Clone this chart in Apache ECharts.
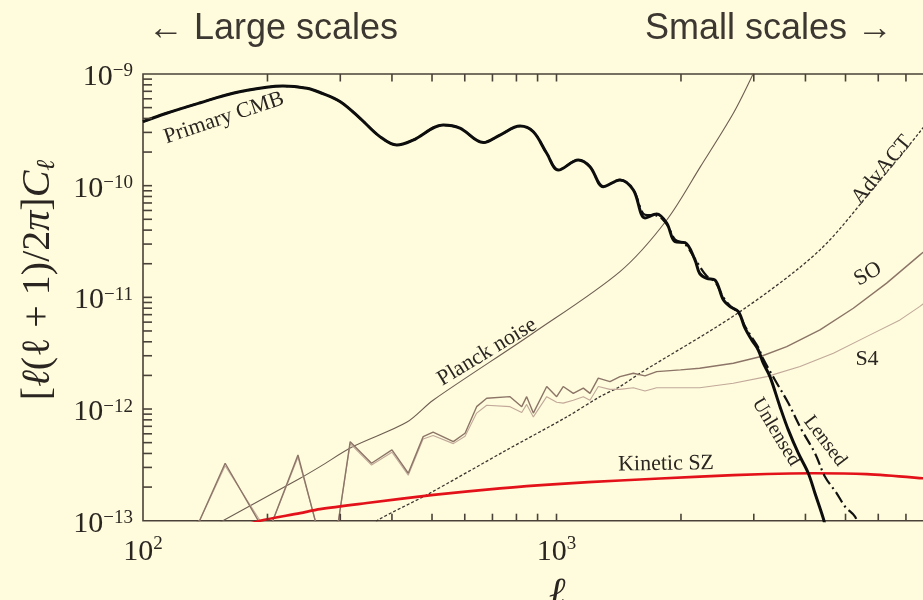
<!DOCTYPE html>
<html>
<head>
<meta charset="utf-8">
<script src="https://cdn.jsdelivr.net/npm/echarts@6/dist/echarts.min.js"></script>
<style>
  html, body { margin: 0; padding: 0; background: #fefcdc; }
  #chart { width: 923px; height: 600px; }
</style>
</head>
<body>
<div id="chart"></div>
<script>
// ---- Temperature power spectrum [l(l+1)/2pi] C_l and experiment noise curves ----
const ellCMB = [100,114,137,165,199,218,249,268,300,335,374,411,450,532,584,665,730,816,879,947,1010,1129,1205,1298,1424,1534,1637,1747,1848,1935,2046,2163,2219,2308,2417,2532,2628,2753,2857,2965,3076,3163,3283,3471,3636,3844,4064,4218,4418,4485];
const clUnlensed = [3.74e-10,4.45e-10,5.50e-10,6.72e-10,7.60e-10,7.81e-10,7.45e-10,6.83e-10,5.65e-10,4.01e-10,2.75e-10,2.31e-10,2.56e-10,3.49e-10,3.27e-10,2.43e-10,2.84e-10,3.42e-10,3.04e-10,1.95e-10,1.38e-10,1.70e-10,1.48e-10,9.8e-11,1.125e-10,9.15e-11,5.14e-11,5.58e-11,4.61e-11,3.15e-11,3.09e-11,2.16e-11,1.64e-11,1.48e-11,1.43e-11,9.5e-12,8.26e-12,7.45e-12,5.29e-12,4.16e-12,3.38e-12,2.57e-12,1.95e-12,1.05e-12,6.5e-13,4.02e-13,2.66e-13,1.76e-13,1.05e-13,8.3e-14];

const ellLensed = [100,114,137,165,199,218,249,268,300,335,374,411,450,532,584,665,730,816,879,947,1010,1129,1205,1298,1424,1534,1637,1747,1848,1935,2046,2163,2308,2417,2532,2628,2753,2857,2965,3076,3163,3376,3636,3917,4218,4460,4760,4985,5272,5360];
const clLensed = [3.74e-10,4.45e-10,5.50e-10,6.72e-10,7.60e-10,7.81e-10,7.45e-10,6.83e-10,5.65e-10,4.01e-10,2.75e-10,2.31e-10,2.56e-10,3.49e-10,3.27e-10,2.43e-10,2.84e-10,3.42e-10,3.04e-10,1.95e-10,1.38e-10,1.70e-10,1.48e-10,9.8e-11,1.125e-10,9.2e-11,5.5e-11,5.4e-11,4.5e-11,3.3e-11,3.0e-11,2.2e-11,1.55e-11,1.38e-11,1.0e-11,8.4e-12,7.3e-12,5.5e-12,4.4e-12,3.55e-12,2.8e-12,1.82e-12,1.13e-12,6.5e-13,4.02e-13,2.48e-13,1.76e-13,1.34e-13,1.09e-13,9.1e-14];

const ellPlanck = [150,156,240,268,322,434,503,877,1424,1848,2229,2677,2992,3100];
const nlPlanck = [9.2e-14,1.0e-13,2.40e-13,3.05e-13,4.61e-13,7.6e-13,1.2e-12,4.77e-12,1.70e-11,4.93e-11,1.48e-10,4.45e-10,1.01e-9,1.4e-9];

const ellAdvACT = [360,371,485,758,1059,1274,1424,1592,2779,4337,6058,7568,9000];
const nlAdvACT = [9e-14,1.02e-13,1.70e-13,4.30e-13,8.5e-13,1.29e-12,1.59e-12,2.09e-12,7.45e-12,2.66e-11,1.125e-10,3.04e-10,7.2e-10];

const ellSO = [100,137,158,190,198,206,237,261,270,297,317,357,400,438,476,503,563,601,641,678,772,824,847,879,947,1001,1038,1098,1161,1205,1262,1347,1424,1534,1637,1747,1995,2219,2677,3105,3604,4337,5222,6287,7568,10000];
const nlSO = [5e-14,1e-13,3.27e-13,1e-13,7e-14,1e-13,3.88e-13,1e-13,7e-14,1e-13,5.1e-13,3.27e-13,4.3e-13,2.66e-13,5.66e-13,6.2e-13,5.1e-13,6.07e-13,1.05e-12,1.25e-12,1.29e-12,1.05e-12,1.29e-12,9.2e-13,1.59e-12,1.29e-12,1.59e-12,1.38e-12,1.54e-12,1.38e-12,1.89e-12,1.76e-12,1.95e-12,2.09e-12,1.98e-12,2.16e-12,2.24e-12,2.32e-12,2.57e-12,2.94e-12,3.62e-12,5.11e-12,7.99e-12,1.34e-11,2.40e-11,5.7e-11];

const ellS4 = [100,137,158,192,198,206,237,261,270,297,317,357,400,438,476,503,563,601,641,678,772,824,847,879,947,1001,1038,1098,1161,1205,1262,1347,1424,1534,1637,1747,1995,2219,2677,3224,3882,4673,5623,6772,7568,10000];
const nlS4 = [5e-14,1e-13,3.1e-13,1e-13,7e-14,1e-13,3.7e-13,1e-13,7e-14,1e-13,4.9e-13,3.15e-13,4.1e-13,2.55e-13,5.4e-13,5.8e-13,4.9e-13,5.7e-13,9.2e-13,1.08e-12,1.05e-12,9.3e-13,1.1e-12,8.5e-13,1.29e-12,1.15e-12,1.13e-12,1.2e-12,1.29e-12,1.2e-12,1.59e-12,1.5e-12,1.5e-12,1.55e-12,1.45e-12,1.55e-12,1.55e-12,1.55e-12,1.7e-12,1.95e-12,2.4e-12,3.16e-12,4.45e-12,6.28e-12,8.3e-12,1.9e-11];

const ellKSZ = [180,192,240,268,348,504,730,1001,1424,2223,3224,4178,5627,7694,10000];
const clKSZ = [9.3e-14,1.0e-13,1.17e-13,1.27e-13,1.44e-13,1.70e-13,1.95e-13,2.13e-13,2.29e-13,2.48e-13,2.62e-13,2.66e-13,2.61e-13,2.40e-13,2.2e-13];

// axis ranges and tick positions
const X_MIN = 100, X_MAX = 10000;
const Y_MIN = 1e-13, Y_MAX = 1e-9;
const xTickValues = [200,300,400,500,600,700,800,900,1000,2000,3000,4000,5000,6000,7000,8000,9000];
const yTickMantissas = [1,2,3,4,5,6,7,8,9];
const yTickDecades = [-13,-12,-11,-10];

const AXIS = '#4a4139';
const TICK = '#4a4139';
const INK = '#2a2521';
const SERIF = '"Liberation Serif", "DejaVu Serif", serif';
const SANS = '"Liberation Sans", Arial, sans-serif';

const zip = (xs, ys) => xs.map((x, i) => [x, ys[i]]);

const yTickValues = [];
yTickDecades.forEach(d => yTickMantissas.forEach(m => {
  if (!(d === -13 && m === 1)) yTickValues.push(m * Math.pow(10, d));
}));

function expLabel(v) {
  const e = Math.round(Math.log10(v));
  return '{b|10}{s|' + String(e).replace('-', '\u2212') + '}';
}

const chart = echarts.init(document.getElementById('chart'), null, { renderer: 'canvas' });

function lineSeries(name, data, style, extra) {
  return Object.assign({
    name: name,
    type: 'line',
    data: data,
    showSymbol: false,
    symbol: 'none',
    clip: true,
    silent: true,
    lineStyle: style
  }, extra || {});
}

function label(text, x, y, deg, size) {
  return {
    type: 'text',
    x: x, y: y,
    rotation: deg * Math.PI / 180,
    silent: true,
    style: {
      text: text,
      font: size + 'px ' + SERIF,
      fill: INK,
      align: 'center', verticalAlign: 'middle',
      textAlign: 'center', textVerticalAlign: 'middle'
    }
  };
}

const labelRich = {
  b: { fontSize: 30, fontFamily: SERIF, color: INK, verticalAlign: 'bottom' },
  s: { fontSize: 19, fontFamily: SERIF, color: INK, verticalAlign: 'top' }
};

const textElements = [
  {
    type: 'text', x: 148, y: 29, silent: true,
    style: { text: '\u2190 Large scales', font: '36px ' + SANS, fill: '#3d3731',
             align: 'left', verticalAlign: 'middle', textAlign: 'left', textVerticalAlign: 'middle' }
  },
  {
    type: 'text', x: 893, y: 29, silent: true,
    style: { text: 'Small scales \u2192', font: '36px ' + SANS, fill: '#3d3731',
             align: 'right', verticalAlign: 'middle', textAlign: 'right', textVerticalAlign: 'middle' }
  },
  {
    type: 'text', x: 38, y: 280, rotation: Math.PI / 2, silent: true,
    style: {
      text: '[{i|\u2113}(\u2113 + 1)/2{i|\u03c0}]{i|C}{sub|\u2113}',
      font: '40px ' + SERIF, fill: INK, lineHeight: 44,
      align: 'center', verticalAlign: 'middle', textAlign: 'center', textVerticalAlign: 'middle',
      rich: {
        i: { fontSize: 40, fontFamily: SERIF, fontStyle: 'italic', fill: INK, color: INK },
        sub: { fontSize: 26, fontFamily: SERIF, fontStyle: 'italic', fill: INK, color: INK, verticalAlign: 'bottom' }
      }
    }
  },
  {
    type: 'text', x: 557, y: 594, silent: true,
    style: { text: '\u2113', font: 'italic 40px ' + SERIF, fill: INK,
             align: 'center', verticalAlign: 'middle', textAlign: 'center', textVerticalAlign: 'middle' }
  },
  label('Primary CMB', 224, 118, 18.6, 22),
  label('Planck noise', 487, 352, 31.2, 22),
  label('AdvACT', 882, 170, 50.3, 22),
  label('SO', 868, 274, 30, 22),
  label('S4', 867, 359, 0, 22),
  label('Kinetic SZ', 666, 464, 1, 22),
  label('Unlensed', 776, 432, -58.8, 20),
  label('Lensed', 825, 441, -52.8, 20)
];

const option = {
  backgroundColor: '#fefcdc',
  animation: false,
  grid: {
    left: 143, top: 74, width: 827, height: 446.7,
    containLabel: false,
    outerBoundsMode: 'none',
    show: true, borderColor: AXIS, borderWidth: 1.6, backgroundColor: 'transparent'
  },
  xAxis: {
    type: 'log', logBase: 10, min: X_MIN, max: X_MAX,
    axisLine: { show: false },
    axisTick: { show: false },
    splitLine: { show: false },
    minorTick: { show: false },
    axisLabel: {
      formatter: expLabel,
      margin: 14,
      lineHeight: 32,
      color: INK,
      rich: labelRich
    }
  },
  yAxis: {
    type: 'log', logBase: 10, min: Y_MIN, max: Y_MAX,
    axisLine: { show: false },
    axisTick: { show: false },
    splitLine: { show: false },
    minorTick: { show: false },
    axisLabel: {
      formatter: expLabel,
      margin: 10,
      lineHeight: 30,
      padding: [6, 0, 0, 0],
      color: INK,
      rich: labelRich
    }
  },
  series: [
    lineSeries('Planck noise', zip(ellPlanck, nlPlanck), { color: '#6e5d52', width: 1.1 }, { smooth: 0.3, z: 2 }),
    lineSeries('AdvACT', zip(ellAdvACT, nlAdvACT), { color: '#3b3430', width: 1.3, type: [3, 2] }, { smooth: 0.3, z: 2 }),
    lineSeries('S4', zip(ellS4, nlS4), { color: '#c2a89a', width: 1.1 }, { z: 2 }),
    lineSeries('SO', zip(ellSO, nlSO), { color: '#8c7467', width: 1.4 }, { z: 3 }),
    lineSeries('Kinetic SZ', zip(ellKSZ, clKSZ), { color: '#e3121a', width: 2.7 }, { smooth: 0.3, z: 4 }),
    lineSeries('Lensed', zip(ellLensed, clLensed), { color: '#111111', width: 2.2, type: [12, 4, 2, 4] }, { smooth: 0.35, z: 5 }),
    lineSeries('Unlensed', zip(ellCMB, clUnlensed), { color: '#0d0d0d', width: 3 }, { smooth: 0.35, z: 6 })
  ],
  graphic: { elements: textElements }
};

chart.setOption(option);

// inward tick marks on the frame, as thin filled bars placed through the axis scales
const tickElements = [];
function tickRect(x, y, w, h) {
  tickElements.push({ type: 'rect', silent: true, z: 50,
    shape: { x: x, y: y, width: w, height: h },
    style: { fill: TICK } });
}
xTickValues.forEach(v => {
  const b = chart.convertToPixel({ gridIndex: 0 }, [v, Y_MIN]);
  const t = chart.convertToPixel({ gridIndex: 0 }, [v, Y_MAX]);
  tickRect(b[0] - 0.8, b[1] - 7, 1.6, 7);
  tickRect(t[0] - 0.8, t[1], 1.6, 7.5);
});
yTickValues.forEach(v => {
  const l = chart.convertToPixel({ gridIndex: 0 }, [X_MIN, v]);
  tickRect(l[0], l[1] - 0.8, 9, 1.6);
});
chart.setOption({ graphic: { elements: textElements.concat(tickElements) } });
</script>
</body>
</html>
